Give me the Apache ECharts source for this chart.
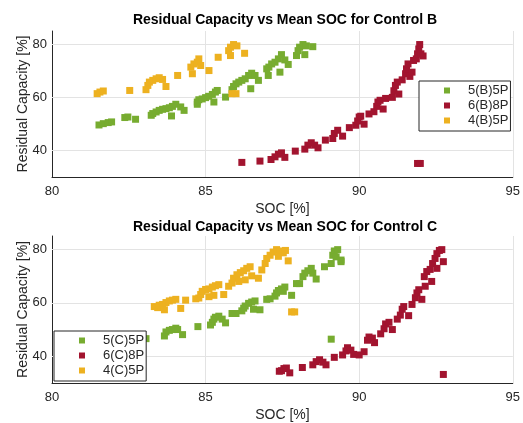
<!DOCTYPE html>
<html>
<head>
<meta charset="utf-8">
<script src="https://cdn.jsdelivr.net/npm/echarts@6/dist/echarts.min.js"></script>
<style>
html,body{margin:0;padding:0;background:#fff;}
#container{width:523px;height:423px;}
</style>
</head>
<body>
<div id="container"></div>
<script>
// [SOC %, residual capacity %]
var ctrlB_5P = [[81.53,49.6],[81.67,50.1],[81.83,50.5],[81.94,50.75],[82.37,52.4],[82.47,52.6],[82.72,51.75],
	[83.23,53.25],[83.28,53.9],[83.39,54.5],[83.49,55.1],[83.6,55.5],[83.71,55.75],[83.82,56.1],[83.92,56.6],
	[84.03,57.4],[83.89,53],[84.3,55.1],[84.19,56.4],[84.73,58.25],[84.78,59.1],[84.73,57.4],[84.89,59.4],
	[85,59.9],[85.1,60.4],[85.22,61.1],[85.32,62],[85.38,62.6],[85.27,58.25],[85.65,60.1],[85.86,62.9],
	[85.91,64.1],[85.99,65.1],[86.08,65.75],[86.18,66.4],[86.29,67],[86.4,68.25],[86.5,69.1],[86.61,68.25],
	[86.72,66.4],[86.47,63.25],[87.04,68.25],[86.99,70.75],[87.06,71.4],[87.15,72.6],[87.26,73.25],[87.37,74.5],
	[87.47,76.1],[87.58,74.1],[87.69,72.4],[87.42,69.5],[87.96,75.75],[88.01,77.6],[88.06,78.9],[88.17,79.9],
	[88.28,79.4],[88.23,76.1],[88.49,79.1]];
var ctrlB_8P = [[86.18,35.5],[86.77,36],[87.13,36.6],[87.26,37.6],[87.37,38.6],[87.47,39.1],[87.58,37.4],
	[87.92,39.75],[88.23,40.5],[88.33,42],[88.44,42.9],[88.55,42],[88.66,41],[88.9,43.9],[89.14,44.5],
	[89.19,46.4],[89.3,47.6],[89.46,45.4],[89.68,48.6],[89.89,49.5],[89.95,51.1],[90,52.6],[90.05,52.9],
	[90.16,49.9],[90.32,53.75],[90.48,54.6],[90.57,56.6],[90.61,58.25],[90.68,58.9],[90.78,55.6],[90.86,59.6],
	[91.08,60],[91.13,62.5],[91.18,64.5],[91.24,65.75],[91.29,61.25],[91.4,66.6],[91.51,68.9],[91.54,70.75],
	[91.59,72.6],[91.65,67.9],[91.72,69.5],[91.77,73.9],[91.86,74.5],[91.9,76.4],[91.94,78.25],[91.97,79.9],
	[92.01,76.4],[92.08,75.6],[91.9,35.1],[91.99,35.1]];
var ctrlB_4P = [[81.47,61.4],[81.56,62],[81.67,62.4],[82.53,62.6],[83.06,62.9],[83.12,64.5],[83.17,65.75],
	[83.28,66.4],[83.39,67],[83.49,67.4],[83.6,66.75],[83.71,64.1],[84.09,68.25],[84.57,68.9],[84.52,71.4],
	[84.62,72.6],[84.73,73.25],[84.78,74.5],[84.84,72],[85.11,70.1],[85.41,75.1],[85.81,75.75],[85.75,77.6],
	[85.81,78.9],[85.91,79.9],[86.02,79.4],[86.27,76.6],[85.86,61.4],[85.99,61.4]];

var ctrlC_5P = [[83.06,46.6],[83.66,47.6],[83.71,49.1],[83.82,49.7],[83.92,50],[84.03,50.5],[84.09,50],
	[84.25,48.1],[84.75,51.1],[85.16,51.7],[85.22,52.7],[85.27,53.9],[85.32,54.6],[85.43,55],[85.54,53.9],
	[85.65,52.5],[85.86,56],[85.99,56],[86.18,57],[86.24,58],[86.29,58.8],[86.4,59.8],[86.5,60.3],[86.61,60.7],
	[86.56,57.6],[86.77,57.4],[86.99,61.3],[87.1,61.5],[87.26,62.5],[87.31,63.7],[87.37,64.6],[87.47,65.2],
	[87.58,65.9],[87.53,64.3],[87.8,62.8],[87.96,67.2],[88.06,67.2],[88.17,69.8],[88.23,71.1],[88.33,72],
	[88.44,72.9],[88.49,71.1],[88.6,68.9],[88.87,73.5],[89.09,74.7],[89.14,77.8],[89.19,79.4],[89.3,79.9],
	[89.25,77.2],[89.41,76],[89.41,75.4],[89.09,46.4]];
var ctrlC_8P = [[87.4,34.4],[87.47,34.6],[87.55,35.4],[87.63,35.6],[87.74,33.8],[88.15,35.8],[88.49,36.8],
	[88.6,38],[88.71,38.7],[88.82,37.8],[88.92,36.8],[89.19,39.6],[89.46,40.5],[89.57,42],[89.62,43.2],
	[89.73,42.3],[89.82,40.7],[90,40.5],[90.16,41.7],[90.27,46],[90.32,47.2],[90.43,46.8],[90.5,45.1],
	[90.7,48.4],[90.81,50.3],[90.86,52.1],[90.97,52.7],[91.08,50],[91.24,53.9],[91.34,55.4],[91.4,57.6],
	[91.45,58.6],[91.61,55.2],[91.72,59.4],[91.83,61.9],[91.88,63.7],[91.94,64.9],[92.04,61.3],[92.15,66.2],
	[92.12,69.8],[92.2,71.7],[92.31,72.5],[92.36,68],[92.39,74.7],[92.47,76.6],[92.53,78.4],[92.61,79.6],
	[92.69,79.9],[92.74,75.4],[92.53,72.9],[92.74,33.2]];
var ctrlC_4P = [[83.33,58.6],[83.44,58.2],[83.49,59.1],[83.6,59.4],[83.71,60.1],[83.82,60.7],[83.92,61],
	[84.03,61.3],[83.66,57.4],[84.19,57.9],[84.35,61],[84.68,61.5],[84.78,61.8],[84.84,63.1],[84.89,64.3],
	[85,65],[85.11,65.2],[85.22,65.9],[85.32,66.4],[85.43,66.8],[85.27,62.8],[85.11,62.3],[85.59,63.1],
	[85.75,66.2],[85.86,67.4],[85.91,69.2],[86.02,70.5],[86.13,71.3],[86.24,72],[86.34,72.9],[86.45,73.5],
	[86.08,68],[86.29,68.6],[86.5,70.1],[86.72,69.2],[86.83,72.3],[86.94,74.7],[86.99,76.6],[87.1,77.8],
	[87.2,79],[87.31,79.9],[87.42,79.4],[87.53,78.7],[87.6,79.6],[87.69,75.7],[87.37,77.4],[87.8,56.6],[87.9,56.6]];

var namesB = ['5(B)5P','6(B)8P','4(B)5P'];
var namesC = ['5(C)5P','6(C)8P','4(C)5P'];
var yTicks = [40, 60, 80];
var colors = ['#77AC30','#A2142F','#EDB120'];

var font = 'Liberation Sans, Arial, sans-serif';

function xAx(idx){
	return {
		gridIndex: idx, type: 'value', min: 80, max: 95, interval: 5,
		name: 'SOC [%]', nameLocation: 'middle', nameGap: 25, nameMoveOverlap: false,
		nameTextStyle: {fontSize: 14, color: '#262626', fontFamily: font},
		axisLine: {show: true, onZero: false, lineStyle: {color: '#262626', width: 1}},
		axisTick: {show: false},
		axisLabel: {fontSize: 13, color: '#262626', margin: 8, fontFamily: font},
		splitLine: {show: true, lineStyle: {color: '#e3e3e3', width: 1}}
	};
}
function yAx(idx){
	return {
		gridIndex: idx, type: 'value', min: 30, max: 85, interval: 10,
		name: 'Residual Capacity [%]', nameLocation: 'middle', nameGap: 22, nameMoveOverlap: false,
		nameTextStyle: {fontSize: 14, color: '#262626', fontFamily: font},
		axisLine: {show: true, onZero: false, lineStyle: {color: '#262626', width: 1}},
		axisTick: {show: false},
		axisLabel: {fontSize: 13, color: '#262626', margin: 5, fontFamily: font,
			formatter: function(v){ return yTicks.indexOf(v) >= 0 ? v : ''; }},
		splitLine: {show: false}
	};
}
// empty series carrying the horizontal grid lines at 40/60/80
function gridLines(g){
	return {
		type: 'scatter', xAxisIndex: g, yAxisIndex: g, data: [], z: 1, silent: true,
		markLine: {silent: true, z: 1, symbol: 'none', label: {show: false},
			lineStyle: {color: '#e3e3e3', width: 1, type: 'solid'},
			data: yTicks.map(function(v){ return {yAxis: v}; })}
	};
}
function sc(name, data, i, g){
	return {
		name: name, type: 'scatter', xAxisIndex: g, yAxisIndex: g, z: 2,
		symbol: 'rect', symbolSize: 7, data: data,
		itemStyle: {color: colors[i], opacity: 1}
	};
}
function legend(names, left, top){
	return {
		data: names.map(function(n){ return {name: n, icon: 'rect'}; }),
		orient: 'vertical', left: left, top: top, z: 10,
		itemWidth: 6, itemHeight: 6, itemGap: 2,
		padding: [3, 2, 4, 25],
		borderColor: '#262626', borderWidth: 1, backgroundColor: '#fff',
		textStyle: {fontSize: 13, color: '#262626', fontFamily: font, padding: [0, 0, 0, 13]}
	};
}

var myChart = echarts.init(document.getElementById('container'));
var option = {
	backgroundColor: '#fff',
	animation: false,
	title: [
		{text: 'Residual Capacity vs Mean SOC for Control B', left: 285, top: 13, textAlign: 'center', padding: 0,
			textStyle: {fontSize: 14, fontWeight: 'bold', color: '#000', fontFamily: font}},
		{text: 'Residual Capacity vs Mean SOC for Control C', left: 285, top: 220, textAlign: 'center', padding: 0,
			textStyle: {fontSize: 14, fontWeight: 'bold', color: '#000', fontFamily: font}}
	],
	grid: [
		{left: 52, top: 31, width: 465, height: 146},
		{left: 52, top: 236, width: 465, height: 148}
	],
	xAxis: [xAx(0), xAx(1)],
	yAxis: [yAx(0), yAx(1)],
	legend: [legend(namesB, 419, 81), legend(namesC, 54, 331)],
	series: [
		gridLines(0), gridLines(1),
		sc(namesB[0], ctrlB_5P, 0, 0), sc(namesB[1], ctrlB_8P, 1, 0), sc(namesB[2], ctrlB_4P, 2, 0),
		sc(namesC[0], ctrlC_5P, 0, 1), sc(namesC[1], ctrlC_8P, 1, 1), sc(namesC[2], ctrlC_4P, 2, 1)
	]
};
myChart.setOption(option);
</script>
</body>
</html>
